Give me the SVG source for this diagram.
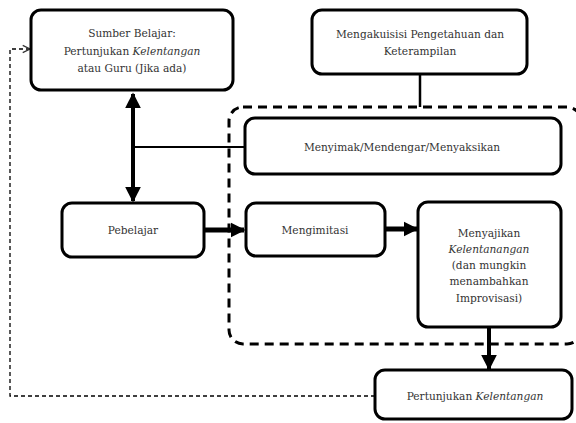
<svg xmlns="http://www.w3.org/2000/svg" width="576" height="423" viewBox="0 0 576 423">
<defs>
<style>
.box{fill:#fff;stroke:#000;stroke-width:3}
.t{font-family:"DejaVu Serif","Liberation Serif",serif;font-size:10.6px;fill:#333;text-anchor:middle}
.it{font-style:italic}
.c{stroke:#000;fill:none}
</style>
<marker id="ah" viewBox="0 0 10 10" refX="9" refY="5" markerWidth="4" markerHeight="4" orient="auto-start-reverse" markerUnits="strokeWidth">
<path d="M0,0 L10,5 L0,10 z" fill="#000"/>
</marker>
<marker id="ah2" viewBox="0 0 10 10" refX="9" refY="5" markerWidth="3" markerHeight="3.5" orient="auto" markerUnits="strokeWidth">
<path d="M0,0 L10,5 L0,10 z" fill="#000"/>
</marker>
<marker id="open" viewBox="0 0 10 10" refX="9" refY="5" markerWidth="7" markerHeight="7" orient="auto" markerUnits="strokeWidth">
<path d="M1,1 L9,5 L1,9" fill="none" stroke="#333" stroke-width="1.3"/>
</marker>
</defs>
<rect width="576" height="423" fill="#fff"/>
<g id="container">
<rect x="229" y="107" width="352" height="237" rx="14" fill="none" stroke="#000" stroke-width="3" stroke-dasharray="9,6"/>
</g>
<g id="connectors">
<line class="c" x1="420" y1="74" x2="420" y2="107" stroke-width="2.5"/>
<line class="c" x1="133" y1="147" x2="245" y2="147" stroke-width="2"/>
<line class="c" x1="133" y1="94" x2="133" y2="201" stroke-width="4" marker-start="url(#ah)" marker-end="url(#ah)"/>
<line class="c" x1="204" y1="230" x2="244" y2="230" stroke-width="5" marker-end="url(#ah2)"/>
<line class="c" x1="385" y1="229" x2="417" y2="229" stroke-width="5" marker-end="url(#ah2)"/>
<line class="c" x1="489" y1="327" x2="489" y2="369" stroke-width="4" marker-end="url(#ah)"/>
<polyline class="c" points="375,396 10,396 10,49 30,49" stroke="#333" stroke-width="1.3" stroke-dasharray="4,3" marker-end="url(#open)"/>
</g>
<g id="sumber">
<rect class="box" x="31" y="10" width="202" height="80" rx="10"/>
<text class="t" x="132" y="37">Sumber Belajar:</text>
<text class="t" x="132" y="55">Pertunjukan <tspan class="it">Kelentangan</tspan></text>
<text class="t" x="132" y="72">atau Guru (Jika ada)</text>
</g>
<g id="mengakuisisi">
<rect class="box" x="312" y="10" width="215" height="64" rx="10"/>
<text class="t" x="420" y="38">Mengakuisisi Pengetahuan dan</text>
<text class="t" x="420" y="55">Keterampilan</text>
</g>
<g id="menyimak">
<rect class="box" x="245" y="118" width="316" height="56" rx="10"/>
<text class="t" x="402" y="151">Menyimak/Mendengar/Menyaksikan</text>
</g>
<g id="pebelajar">
<rect class="box" x="62" y="203" width="142" height="54" rx="10"/>
<text class="t" x="133" y="234">Pebelajar</text>
</g>
<g id="mengimitasi">
<rect class="box" x="246" y="203" width="139" height="53" rx="10"/>
<text class="t" x="315" y="234">Mengimitasi</text>
</g>
<g id="menyajikan">
<rect class="box" x="418" y="202" width="143" height="125" rx="10"/>
<text class="t" x="489" y="237">Menyajikan</text>
<text class="t it" x="489" y="253">Kelentanangan</text>
<text class="t" x="489" y="269">(dan mungkin</text>
<text class="t" x="489" y="285">menambahkan</text>
<text class="t" x="489" y="302">Improvisasi)</text>
</g>
<g id="pertunjukan">
<rect class="box" x="375" y="370" width="197" height="49" rx="10"/>
<text class="t" x="475" y="400">Pertunjukan <tspan class="it">Kelentangan</tspan></text>
</g>
</svg>
